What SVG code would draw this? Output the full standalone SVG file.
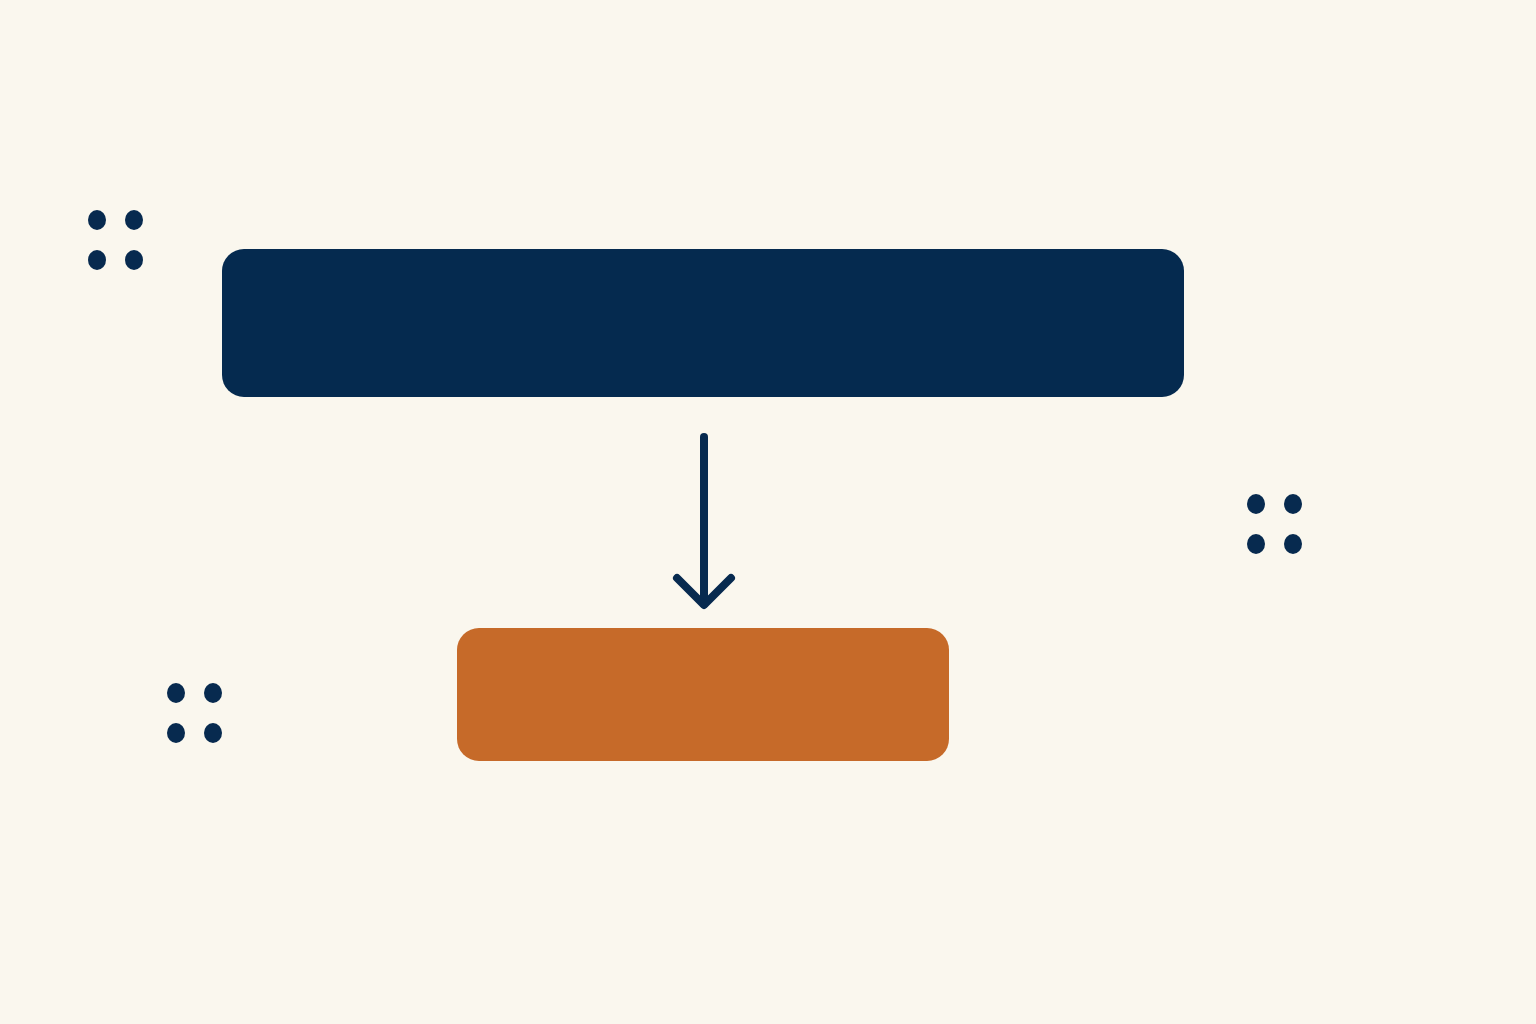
<svg xmlns="http://www.w3.org/2000/svg" width="1536" height="1024" viewBox="0 0 1536 1024">
<style>
.dot{fill:#072a4f}
.conn{stroke:#072a4f;stroke-width:8;fill:none;stroke-linecap:round;stroke-linejoin:round}
</style>
<rect width="1536" height="1024" fill="#faf7ee"/>
<g id="node-top"><rect x="222" y="249" width="962" height="148" rx="22" fill="#052a4f"/></g>
<g id="node-bottom"><rect x="457" y="628" width="492" height="133" rx="22" fill="#c66a29"/></g>
<g id="connectors">
<path class="conn" d="M704 437 V604"/>
<path class="conn" d="M677 578 L704 605 L731 578"/>
</g>
<g id="dots-1">
<ellipse class="dot" cx="97" cy="220" rx="9" ry="10"/><ellipse class="dot" cx="134" cy="220" rx="9" ry="10"/>
<ellipse class="dot" cx="97" cy="260" rx="9" ry="10"/><ellipse class="dot" cx="134" cy="260" rx="9" ry="10"/>
</g>
<g id="dots-2">
<ellipse class="dot" cx="1256" cy="504" rx="9" ry="10"/><ellipse class="dot" cx="1293" cy="504" rx="9" ry="10"/>
<ellipse class="dot" cx="1256" cy="544" rx="9" ry="10"/><ellipse class="dot" cx="1293" cy="544" rx="9" ry="10"/>
</g>
<g id="dots-3">
<ellipse class="dot" cx="176" cy="693" rx="9" ry="10"/><ellipse class="dot" cx="213" cy="693" rx="9" ry="10"/>
<ellipse class="dot" cx="176" cy="733" rx="9" ry="10"/><ellipse class="dot" cx="213" cy="733" rx="9" ry="10"/>
</g>
</svg>
